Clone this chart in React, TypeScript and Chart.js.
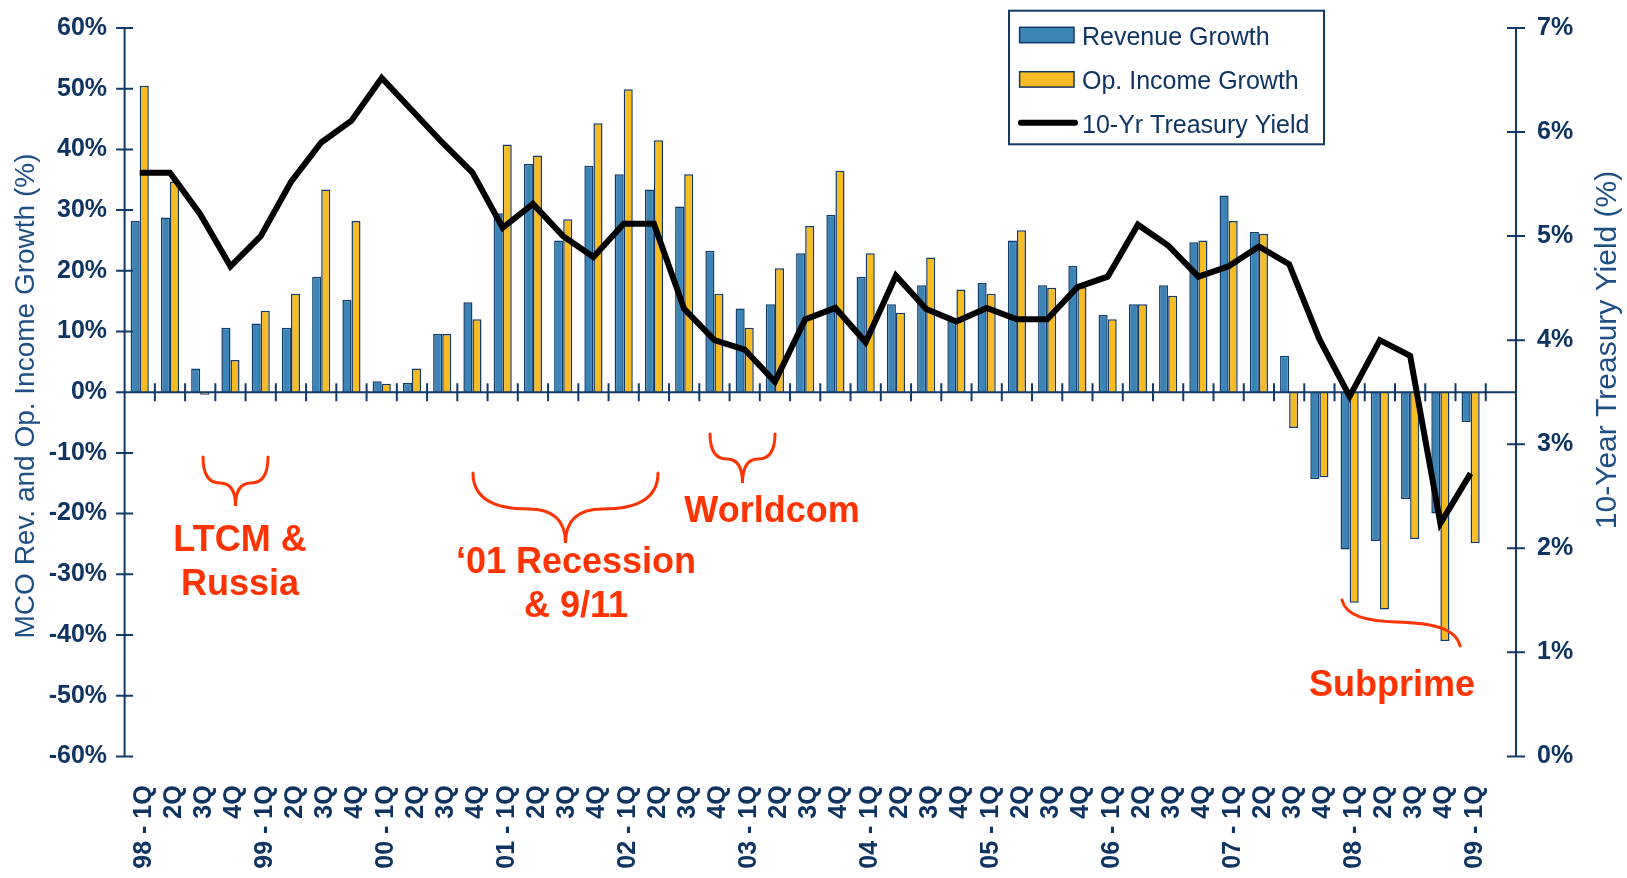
import React, { useEffect, useRef } from 'react';
import { Chart, registerables } from 'chart.js';

Chart.register(...registerables);

// ---------- data ----------
const quarterLabels = [
  '98 - 1Q', '2Q', '3Q', '4Q',
  '99 - 1Q', '2Q', '3Q', '4Q',
  '00 - 1Q', '2Q', '3Q', '4Q',
  '01 - 1Q', '2Q', '3Q', '4Q',
  '02 - 1Q', '2Q', '3Q', '4Q',
  '03 - 1Q', '2Q', '3Q', '4Q',
  '04 - 1Q', '2Q', '3Q', '4Q',
  '05 - 1Q', '2Q', '3Q', '4Q',
  '06 - 1Q', '2Q', '3Q', '4Q',
  '07 - 1Q', '2Q', '3Q', '4Q',
  '08 - 1Q', '2Q', '3Q', '4Q',
  '09 - 1Q',
];

const revenueGrowth = [
  28.2, 28.8, 3.9, 10.6,
  11.3, 10.6, 19.0, 15.2,
  1.8, 1.5, 9.6, 14.8,
  29.5, 37.6, 25.0, 37.3,
  35.9, 33.4, 30.6, 23.3,
  13.8, 14.5, 22.9, 29.2,
  19.0, 14.5, 17.6, 11.7,
  18.0, 25.0, 17.6, 20.8,
  12.7, 14.5, 17.6, 24.7,
  32.4, 26.4, 6.0, -14.3,
  -25.9, -24.5, -17.6, -20.0,
  -4.9,
];

const opIncomeGrowth = [
  50.5, 34.7, -0.4, 5.3,
  13.4, 16.2, 33.4, 28.2,
  1.4, 3.9, 9.6, 12.0,
  40.8, 39.0, 28.5, 44.3,
  49.9, 41.5, 35.9, 16.2,
  10.6, 20.4, 27.4, 36.5,
  22.9, 13.1, 22.2, 16.9,
  16.2, 26.7, 17.2, 17.3,
  12.0, 14.5, 15.9, 25.0,
  28.2, 26.1, -5.9, -14.0,
  -34.7, -35.8, -24.2, -41.0,
  -24.9,
];

const treasuryYield = [
  5.61, 5.61, 5.21, 4.71,
  5.00, 5.52, 5.90, 6.11,
  6.52, 6.21, 5.90, 5.61,
  5.08, 5.31, 5.00, 4.80,
  5.12, 5.12, 4.30, 4.00,
  3.91, 3.60, 4.20, 4.31,
  3.98, 4.62, 4.30, 4.18,
  4.31, 4.20, 4.20, 4.51,
  4.61, 5.11, 4.91, 4.61,
  4.71, 4.90, 4.73, 4.01,
  3.46, 4.00, 3.85, 2.24,
  2.72,
];

const seriesNames = ['Revenue Growth', 'Op. Income Growth', '10-Yr Treasury Yield'];
const leftTitle = 'MCO Rev. and Op. Income Growth (%)';
const rightTitle = '10-Year Treasury Yield (%)';

const annotations = [
  { lines: ['LTCM &', 'Russia'], x: 240, y: [551, 595] },
  { lines: ['\u201801 Recession', '& 9/11'], x: 576, y: [573, 617] },
  { lines: ['Worldcom'], x: 772, y: [522] },
  { lines: ['Subprime'], x: 1392, y: [696] },
];

// ---------- style ----------
const FONT = '"Liberation Sans", Arial, Helvetica, sans-serif';
const BLUE = '#3B84B6';
const YELLOW = '#F7BB24';
const NAVY = '#123A69';
const TICK_TEXT = '#0F3461';
const TITLE_TEXT = '#1E4F84';
const RED = '#FF3300';

function drawBrace(ctx: CanvasRenderingContext2D, xl: number, xr: number, yTop: number, yMid: number, yTip: number, frac: number) {
  const xm = (xl + xr) / 2;
  const xsL = xl + (xm - xl) * frac;
  const xsR = xr - (xr - xm) * frac;
  ctx.beginPath();
  ctx.moveTo(xl, yTop);
  ctx.quadraticCurveTo(xl, yMid, xsL, yMid);
  ctx.quadraticCurveTo(xm, yMid, xm, yTip);
  ctx.quadraticCurveTo(xm, yMid, xsR, yMid);
  ctx.quadraticCurveTo(xr, yMid, xr, yTop);
  ctx.stroke();
}

const decorPlugin = {
  id: 'decor',
  beforeDatasetDraw(chart: any, args: any) {
    if (args.meta.type !== 'line') return;
    const { ctx, chartArea: ca, scales } = chart;
    const y = scales.y;
    const y1 = scales.y1;
    const x = scales.x;
    const top = y.getPixelForValue(60);
    const bottom = y.getPixelForValue(-60);
    ctx.save();
    ctx.strokeStyle = NAVY;
    ctx.lineWidth = 2;
    ctx.beginPath();
    ctx.moveTo(ca.left, top);
    ctx.lineTo(ca.left, bottom);
    ctx.moveTo(ca.right, top);
    ctx.lineTo(ca.right, bottom);
    const y0 = y.getPixelForValue(0);
    ctx.moveTo(ca.left, y0);
    ctx.lineTo(ca.right, y0);
    y.ticks.forEach((t: any) => {
      const py = y.getPixelForValue(t.value);
      ctx.moveTo(ca.left - 8.5, py);
      ctx.lineTo(ca.left + 8.5, py);
    });
    y1.ticks.forEach((t: any) => {
      const py = y1.getPixelForValue(t.value);
      ctx.moveTo(ca.right - 9, py);
      ctx.lineTo(ca.right + 9, py);
    });
    for (let i = 0; i < quarterLabels.length; i++) {
      const px = (x.getPixelForValue(i) + x.getPixelForValue(i + 1)) / 2;
      ctx.moveTo(px, y0 - 9);
      ctx.lineTo(px, y0 + 9);
    }
    ctx.stroke();
    ctx.restore();
  },
  afterDraw(chart: any) {
    const { ctx } = chart;
    ctx.save();
    // legend
    ctx.fillStyle = '#ffffff';
    ctx.fillRect(1009, 10.7, 315, 133.6);
    ctx.strokeStyle = NAVY;
    ctx.lineWidth = 2;
    ctx.strokeRect(1009, 10.7, 315, 133.6);
    ctx.lineWidth = 1.5;
    ctx.fillStyle = BLUE;
    ctx.fillRect(1019.6, 27.3, 54.4, 15.4);
    ctx.strokeRect(1019.6, 27.3, 54.4, 15.4);
    ctx.fillStyle = YELLOW;
    ctx.fillRect(1019.6, 71.7, 54.4, 15.4);
    ctx.strokeRect(1019.6, 71.7, 54.4, 15.4);
    ctx.strokeStyle = '#000';
    ctx.lineWidth = 6;
    ctx.lineCap = 'round';
    ctx.beginPath();
    ctx.moveTo(1021, 122.7);
    ctx.lineTo(1075, 122.7);
    ctx.stroke();
    ctx.fillStyle = TICK_TEXT;
    ctx.font = `25px ${FONT}`;
    ctx.textAlign = 'left';
    ctx.textBaseline = 'alphabetic';
    ctx.fillText(seriesNames[0], 1082, 45);
    ctx.fillText(seriesNames[1], 1082, 88.5);
    ctx.fillText(seriesNames[2], 1082, 132.5);

    // axis titles
    ctx.fillStyle = TITLE_TEXT;
    ctx.textAlign = 'center';
    ctx.textBaseline = 'middle';
    ctx.save();
    ctx.translate(26, 396);
    ctx.rotate(-Math.PI / 2);
    ctx.font = `28px ${FONT}`;
    ctx.fillText(leftTitle, 0, 0);
    ctx.restore();
    ctx.save();
    ctx.translate(1608, 350);
    ctx.rotate(-Math.PI / 2);
    ctx.font = `30px ${FONT}`;
    ctx.fillText(rightTitle, 0, 0);
    ctx.restore();

    // annotations
    ctx.fillStyle = RED;
    ctx.font = `bold 36px ${FONT}`;
    ctx.textAlign = 'center';
    ctx.textBaseline = 'alphabetic';
    annotations.forEach((a) => {
      a.lines.forEach((line, i) => ctx.fillText(line, a.x, a.y[i]));
    });
    ctx.strokeStyle = RED;
    ctx.lineWidth = 3;
    ctx.lineCap = 'round';
    drawBrace(ctx, 203, 268, 457, 483, 506, 0.52);
    drawBrace(ctx, 473, 658, 473, 509, 543, 0.6);
    drawBrace(ctx, 710, 775, 434, 459, 483, 0.52);
    ctx.beginPath();
    ctx.moveTo(1342, 600);
    ctx.bezierCurveTo(1346, 616, 1366, 621, 1396, 622);
    ctx.bezierCurveTo(1432, 623, 1456, 628, 1460, 646);
    ctx.stroke();
    ctx.restore();
  },
};

export default function App() {
  const canvasRef = useRef<HTMLCanvasElement | null>(null);

  useEffect(() => {
    const canvas = canvasRef.current;
    if (!canvas) return;
    const labels = [...quarterLabels, ''];
    const tickFont = { family: FONT, size: 25, weight: 'bold' as const };
    const chart = new Chart(canvas, {
      data: {
        labels,
        datasets: [
          {
            type: 'line',
            label: seriesNames[2],
            data: treasuryYield,
            yAxisID: 'y1',
            borderColor: '#000000',
            backgroundColor: '#000000',
            borderWidth: 6,
            pointRadius: 0,
            tension: 0,
            order: 0,
          },
          {
            type: 'bar',
            label: seriesNames[0],
            data: revenueGrowth,
            yAxisID: 'y',
            backgroundColor: BLUE,
            borderColor: NAVY,
            borderWidth: 1.5,
            categoryPercentage: 0.6,
            barPercentage: 1.0,
            order: 1,
          },
          {
            type: 'bar',
            label: seriesNames[1],
            data: opIncomeGrowth,
            yAxisID: 'y',
            backgroundColor: YELLOW,
            borderColor: NAVY,
            borderWidth: 1.5,
            categoryPercentage: 0.6,
            barPercentage: 1.0,
            order: 1,
          },
        ] as any,
      },
      options: {
        responsive: false,
        animation: false,
        devicePixelRatio: 1,
        layout: { padding: { top: 28, left: 0, right: 0, bottom: 0 } },
        plugins: {
          legend: { display: false },
          tooltip: { enabled: false },
        },
        scales: {
          x: {
            type: 'category',
            offset: true,
            grid: { display: false },
            border: { display: false },
            ticks: {
              autoSkip: false,
              minRotation: 90,
              maxRotation: 90,
              padding: 21,
              labelOffset: 4,
              color: TICK_TEXT,
              font: { family: FONT, size: 25, weight: 'bold' },
            },
            afterFit: (s: any) => {
              s.height = 121.6;
            },
          },
          y: {
            position: 'left',
            min: -60,
            max: 60,
            grid: { display: false, drawTicks: false },
            border: { display: false },
            ticks: {
              stepSize: 10,
              padding: 17.5,
              color: TICK_TEXT,
              font: tickFont,
              callback: (v: any) => `${v}%`,
            },
            afterFit: (s: any) => {
              s.width = 124.6;
              s.paddingTop = 0;
              s.paddingBottom = 0;
            },
          },
          y1: {
            position: 'right',
            min: 0,
            max: 7,
            grid: { display: false, drawTicks: false },
            border: { display: false },
            ticks: {
              stepSize: 1,
              padding: 21,
              color: TICK_TEXT,
              font: tickFont,
              callback: (v: any) => `${v}%`,
            },
            afterFit: (s: any) => {
              s.width = 1627 - 1516;
              s.paddingTop = 0;
              s.paddingBottom = 0;
            },
          },
        },
      } as any,
      plugins: [decorPlugin],
    });
    return () => chart.destroy();
  }, []);

  return (
    <div style={{ position: 'fixed', left: 0, top: 0, width: 1627, height: 878, background: '#ffffff' }}>
      <canvas ref={canvasRef} width={1627} height={878} style={{ display: 'block' }} />
    </div>
  );
}
